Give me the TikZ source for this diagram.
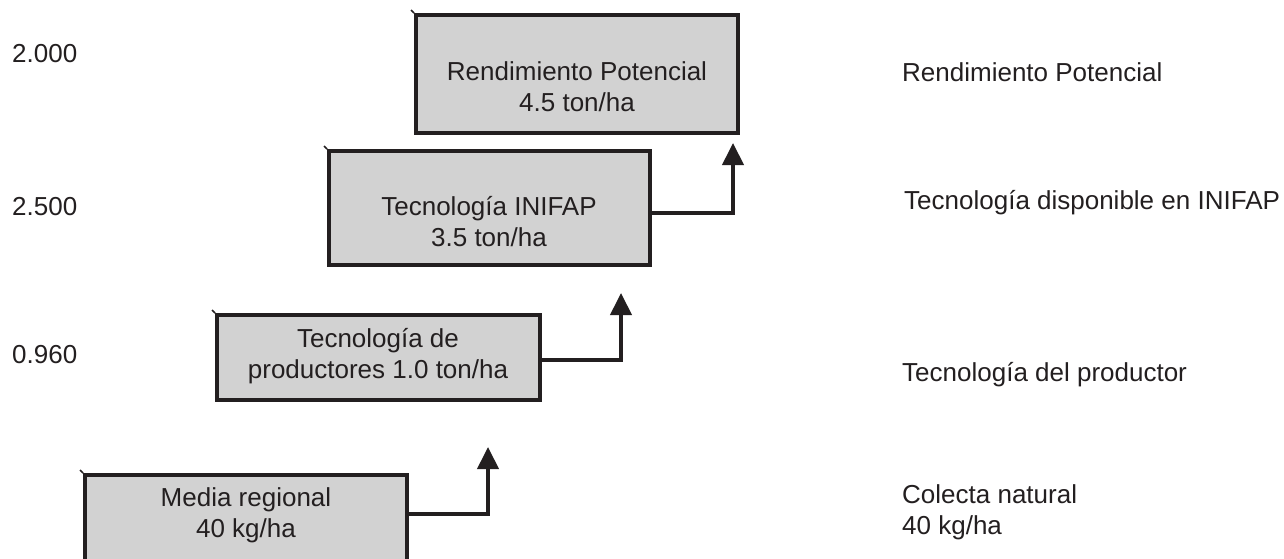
\documentclass[tikz,border=0pt]{standalone}
\usepackage{fontspec}
\setmainfont{Liberation Sans}
\usetikzlibrary{arrows.meta,calc}
\definecolor{txt}{HTML}{231F20}
\definecolor{boxfill}{HTML}{D2D2D2}
\tikzset{
  x=1pt, y=-1pt,
  stagebox/.style={draw=txt, fill=boxfill, line width=4pt, inner sep=0pt},
  lbl/.style={text=txt, font=\fontsize{26}{31}\selectfont, inner sep=0pt, align=center},
  sidelbl/.style={lbl, anchor=west, align=left},
  conn/.style={draw=txt, line width=4pt, -{Triangle[width=21pt,length=22pt]}},
  tick/.style={draw=txt, line width=1.5pt}
}
\begin{document}
\begin{tikzpicture}
\useasboundingbox (0,0) rectangle (1284,558);
\clip (0,0) rectangle (1284,558);
\fill[white] (0,0) rectangle (1284,558);
% boxes
\node[stagebox, minimum width=322pt, minimum height=118pt] (b1) at (577,74) {};
\node[stagebox, minimum width=321pt, minimum height=114pt] (b2) at (489.5,208) {};
\node[stagebox, minimum width=323pt, minimum height=85pt] (b3) at (378.5,357.5) {};
\node[stagebox, minimum width=322pt, minimum height=140pt] (b4) at (246,545) {};
% small corner ticks
\draw[tick] (b1.north west) -- ++(-3,-3);
\draw[tick] (b2.north west) -- ++(-3,-3);
\draw[tick] (b3.north west) -- ++(-3,-3);
\draw[tick] (b4.north west) -- ++(-3,-3);
% box texts
\node[lbl] (t1) at (577,87) {Rendimiento Potencial\\4.5 ton/ha};
\node[lbl] (t2) at (489,222) {Tecnología INIFAP\\3.5 ton/ha};
\node[lbl] (t3) at (378,356) {Tecnología de\\productores 1.0 ton/ha};
\node[lbl] (t4) at (246,515) {Media regional\\40 kg/ha};
% connectors
\coordinate (p1) at (733,143);
\coordinate (p2) at (621,293);
\coordinate (p3) at (488,447);
\draw[conn] ($(b2.north east)+(0,64)$) -| (p1);
\draw[conn] ($(b3.north east)+(0,47)$) -| (p2);
\draw[conn] ($(b4.north east)+(0,41)$) -| (p3);
% left values
\node[sidelbl] (v1) at (12,54) {2.000};
\node[sidelbl] (v2) at (12,207) {2.500};
\node[sidelbl] (v3) at (12,355) {0.960};
% right labels
\node[sidelbl] (r1) at (902,72) {Rendimiento Potencial};
\node[sidelbl] (r2) at (904,203) {Tecnología disponible en INIFAP};
\node[sidelbl] (r3) at (902,375) {Tecnología del productor};
\node[sidelbl] (r4) at (902,512) {Colecta natural\\40 kg/ha};
\end{tikzpicture}
\end{document}
